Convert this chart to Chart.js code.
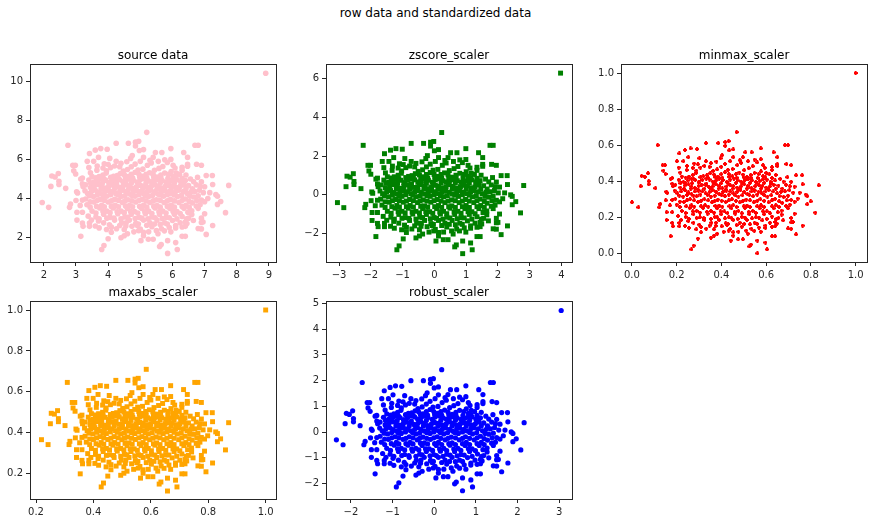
<!DOCTYPE html>
<html>
<head>
<meta charset="utf-8">
<title>row data and standardized data</title>
<script src="https://cdn.jsdelivr.net/npm/chart.js@4"></script>
<style>
    html, body { margin: 0; padding: 0; background: #fff; }
    body { position: relative; width: 874px; height: 523px; overflow: hidden; }
    #suptitle {
        position: absolute; left: 0; top: 5px; width: 871px; text-align: center;
        font: 12px "DejaVu Sans"; color: #000; line-height: 16px;
    }
    .panel { position: absolute; }
</style>
</head>
<body>
<div id="suptitle">row data and standardized data</div>
<script>
// Values, one pair of arrays per panel

const sourceX = [
    8.9,1.95,2.15,2.22,2.25,2.35,2.45,2.47,2.47,2.68,2.75,2.9,2.98,2.93,2.99,2.8,2.83,3.0,3.02,3.05,3.03,3.03,3.13,3.15,3.2,3.22,3.15,3.2,3.2,3.22,
    3.35,3.42,3.4,3.45,3.55,3.6,3.7,3.77,3.65,3.4,3.42,3.42,3.6,3.72,3.7,3.8,3.87,3.95,4.0,4.1,4.05,3.97,4.25,3.88,4.25,4.63,4.85,4.85,4.95,5.1,
    5.2,4.97,4.75,4.4,5.47,5.67,5.95,5.4,6.35,6.47,6.7,6.8,6.75,6.47,6.47,6.9,6.78,7.05,7.24,7.25,7.75,7.5,7.4,7.35,7.4,7.65,7.25,7.05,7.0,6.9,
    6.95,6.9,6.8,6.9,6.65,6.45,6.4,6.3,6.4,6.1,5.85,5.85,6.15,5.65,5.6,5.4,5.25,5.02,5.1,4.8,4.5,4.4,4.55,
    3.95,4.2,4.47,4.72,4.93,5.22,5.44,5.7,5.96,6.22,
    3.72,3.94,4.17,4.38,4.62,4.84,5.07,5.29,5.52,5.76,6.02,6.42,
    3.55,3.8,4.02,4.26,4.46,4.66,4.9,5.12,5.34,5.56,5.8,6.02,6.26,6.56,
    3.45,3.7,3.9,4.12,4.34,4.56,4.76,5.0,5.22,5.44,5.66,5.9,6.12,6.36,6.62,6.86,
    3.36,3.6,3.8,4.02,4.24,4.46,4.66,4.88,5.1,5.32,5.54,5.76,5.98,6.2,6.46,6.7,6.96,
    3.3,3.54,3.76,3.96,4.2,4.4,4.62,4.84,5.06,5.26,5.5,5.72,5.94,6.16,6.4,6.66,6.9,7.1,
    3.34,3.56,3.8,4.0,4.22,4.44,4.66,4.86,5.1,5.3,5.52,5.74,5.96,6.2,6.42,6.62,6.86,
    3.5,3.74,3.96,4.16,4.4,4.6,4.82,5.04,5.26,5.46,5.7,5.92,6.14,6.36,6.6,6.8,
    3.62,3.86,4.06,4.3,4.52,4.72,4.96,5.16,5.36,5.6,5.8,6.06,6.3,6.6,
    3.86,4.2,4.42,4.66,4.86,5.1,5.3,5.52,5.76,6.0,6.24,
    4.26,4.74,5.0,5.36,5.66,5.9,
    3.84,4.28,4.5,4.72,4.96,5.18,5.4,5.64,5.88,6.12,
    3.68,3.92,4.14,4.36,4.56,4.78,5.0,5.24,5.46,5.68,5.92,6.14,6.4,
    3.58,3.8,4.02,4.24,4.46,4.66,4.88,5.1,5.34,5.55,5.78,6.0,6.24,6.5,6.74,
    3.48,3.7,3.9,4.14,4.36,4.56,4.78,5.0,5.22,5.44,5.66,5.88,6.1,6.34,6.58,6.84,
    3.42,3.66,3.86,4.08,4.3,4.52,4.74,4.96,5.16,5.38,5.6,5.84,6.06,6.28,6.54,6.8,
    3.44,3.66,3.88,4.1,4.32,4.52,4.74,4.96,5.18,5.4,5.62,5.84,6.06,6.3,6.52,6.76,7.0,
    3.44,3.64,3.88,4.1,4.32,4.54,4.76,4.98,5.2,5.42,5.62,5.84,6.06,6.3,6.52,6.74,
    3.62,3.84,4.06,4.28,4.5,4.7,4.92,5.14,5.36,5.58,5.8,6.02,6.24,6.48,
    3.72,3.96,4.18,4.4,4.6,4.84,5.04,5.24,5.46,5.68,5.9,6.14,6.44,
    4.04,4.36,4.56,4.94,5.2,5.44,5.62,5.84,6.1,
    4.08,4.6,4.84,5.08,5.34,5.58,5.84,6.08,3.66,3.84,
    3.5,3.3,3.28,3.2,3.2,3.38,3.48,7.0,7.16,6.66,6.9,
    3.62,3.86,4.08,4.32,4.54,4.76,4.98,5.2,5.42,5.64,5.86,6.1,6.3,
    3.46,3.6,3.82,4.04,4.26,4.5,4.72,4.94,5.18,5.4,5.62,5.84,6.06,6.28,
    3.56,3.78,4.0,4.2,4.42,4.64,4.86,5.08,5.3,5.52,5.74,5.96,6.18,6.42,
    4.0,4.36,4.58,4.7,5.0,5.1,5.3,5.56,5.76,5.95,6.02,6.3,6.3,
    4.1,4.5,4.6,4.9,4.95,5.1,5.26,5.5,5.55,5.75,5.95,6.1,6.4,6.5,6.3
];
const sourceY = [
    10.4,3.8,3.55,4.62,5.15,5.1,5.28,4.88,4.72,4.52,6.72,5.7,5.7,5.42,5.25,3.55,3.72,3.9,4.35,4.28,3.3,2.9,3.65,2.07,2.75,2.58,5.0,5.05,4.75,4.62,
    5.9,6.3,5.58,5.32,5.9,6.47,6.1,6.55,5.45,4.95,2.75,2.58,2.6,2.5,2.85,1.4,1.6,2.42,1.95,2.28,6.05,6.52,6.82,5.78,5.9,6.82,6.88,6.68,6.92,6.5,
    7.38,6.45,6.2,5.8,6.35,6.35,6.55,6.1,6.35,6.1,6.72,6.72,5.75,5.75,5.65,5.7,5.08,5.18,5.18,4.72,4.67,3.85,3.7,4.2,4.12,3.28,2.62,2.17,3.22,3.0,
    2.8,2.45,2.47,2.78,2.88,2.72,2.58,2.07,2.07,1.75,1.85,1.2,1.4,1.65,1.55,1.92,1.92,1.85,2.1,2.3,2.1,2.0,2.6,
    5.42,5.66,5.4,5.62,5.46,5.7,5.44,5.64,5.38,5.24,
    5.12,5.3,5.14,5.28,5.12,5.34,5.14,5.32,5.1,5.3,5.14,5.2,
    4.84,5.0,4.82,5.02,4.86,5.0,4.84,5.02,4.86,4.98,4.84,4.98,4.86,5.0,
    4.56,4.72,4.54,4.7,4.58,4.72,4.52,4.68,4.56,4.72,4.54,4.68,4.56,4.7,4.5,4.62,
    4.26,4.42,4.24,4.4,4.26,4.42,4.24,4.4,4.26,4.42,4.24,4.4,4.26,4.42,4.26,4.36,4.3,
    3.98,4.1,3.96,4.12,3.96,4.1,3.94,4.12,3.96,4.1,3.94,4.12,3.96,4.1,3.98,4.08,3.92,4.0,
    3.68,3.82,3.66,3.82,3.66,3.8,3.64,3.82,3.66,3.8,3.64,3.8,3.66,3.8,3.66,3.78,3.68,
    3.36,3.52,3.36,3.52,3.36,3.5,3.34,3.5,3.36,3.52,3.36,3.5,3.34,3.5,3.38,3.5,
    3.06,3.2,3.04,3.22,3.06,3.2,3.04,3.22,3.06,3.2,3.04,3.2,3.08,3.18,
    2.76,2.9,2.76,2.9,2.74,2.9,2.76,2.9,2.76,2.88,2.76,
    2.46,2.58,2.44,2.56,2.46,2.52,
    5.2,5.18,5.22,5.24,5.24,5.24,5.22,5.2,5.24,5.3,
    4.92,4.94,4.94,4.96,4.92,4.94,4.96,4.92,4.94,4.92,4.9,4.96,4.92,
    4.66,4.62,4.64,4.68,4.62,4.64,4.6,4.64,4.62,4.64,4.62,4.64,4.62,4.66,4.7,
    4.36,4.32,4.36,4.36,4.34,4.34,4.34,4.36,4.34,4.34,4.36,4.34,4.36,4.36,4.34,4.42,
    4.14,4.18,4.14,4.2,4.18,4.14,4.16,4.2,4.16,4.16,4.18,4.2,4.18,4.16,4.12,4.14,
    3.84,3.9,3.9,3.88,3.9,3.88,3.88,3.9,3.88,3.88,3.9,3.88,3.88,3.9,3.86,3.9,3.84,
    3.56,3.6,3.58,3.6,3.58,3.62,3.58,3.6,3.56,3.6,3.56,3.6,3.56,3.6,3.56,3.62,
    3.26,3.34,3.28,3.32,3.28,3.34,3.26,3.32,3.24,3.32,3.26,3.34,3.24,3.3,
    2.96,3.0,3.0,2.96,3.04,2.98,3.0,2.96,3.02,2.98,3.02,2.96,2.96,
    2.66,2.62,2.76,2.7,2.64,2.7,2.68,2.7,2.62,
    5.58,5.48,5.76,5.5,5.82,5.54,5.84,5.56,5.66,5.56,
    5.12,4.7,4.4,3.92,3.3,3.1,2.9,4.6,4.3,4.86,4.85,
    5.06,5.02,5.08,5.04,5.08,5.06,5.1,5.06,5.08,5.06,5.04,5.08,5.04,
    4.78,4.8,4.78,4.82,4.76,4.8,4.78,4.76,4.8,4.78,4.8,4.76,4.8,4.78,
    4.48,4.5,4.46,4.5,4.48,4.5,4.46,4.5,4.48,4.5,4.46,4.5,4.48,4.5,
    5.74,5.62,5.88,6.05,5.9,6.1,5.95,5.9,5.98,6.0,5.7,5.6,5.45,
    2.54,2.42,2.2,2.64,2.36,2.28,2.3,2.36,2.2,2.35,2.3,2.5,2.8,3.0,2.55
];

const zscoreX = [
    3.97,-3.05,-2.85,-2.78,-2.75,-2.65,-2.55,-2.53,-2.53,-2.31,-2.24,-2.09,-2.01,-2.06,-2.0,-2.19,-2.16,-1.99,-1.97,-1.94,-1.96,-1.96,-1.86,-1.84,-1.79,-1.77,-1.84,-1.79,-1.79,-1.77,
    -1.64,-1.57,-1.59,-1.54,-1.43,-1.38,-1.28,-1.21,-1.33,-1.59,-1.57,-1.57,-1.38,-1.26,-1.28,-1.18,-1.11,-1.03,-0.98,-0.88,-0.93,-1.01,-0.73,-1.1,-0.73,-0.34,-0.12,-0.12,-0.02,0.13,
    0.23,0,-0.22,-0.58,0.51,0.71,0.99,0.43,1.39,1.52,1.75,1.85,1.8,1.52,1.52,1.95,1.83,2.1,2.29,2.3,2.81,2.56,2.45,2.4,2.45,2.71,2.3,2.1,2.05,1.95,
    2.0,1.95,1.85,1.95,1.7,1.49,1.44,1.34,1.44,1.14,0.89,0.89,1.19,0.69,0.64,0.43,0.28,0.05,0.13,-0.17,-0.47,-0.58,-0.42,
    -1.03,-0.78,-0.51,-0.25,-0.04,0.25,0.47,0.74,1.0,1.26,
    -1.26,-1.04,-0.81,-0.6,-0.35,-0.13,0.1,0.32,0.56,0.8,1.06,1.47,
    -1.44,-1.18,-0.96,-0.72,-0.52,-0.31,-0.07,0.15,0.37,0.6,0.84,1.06,1.3,1.61,
    -1.54,-1.28,-1.08,-0.86,-0.64,-0.41,-0.21,0.03,0.25,0.47,0.69,0.94,1.16,1.4,1.66,1.91,
    -1.63,-1.38,-1.18,-0.96,-0.74,-0.52,-0.31,-0.09,0.13,0.35,0.57,0.8,1.02,1.24,1.5,1.75,2.01,
    -1.69,-1.44,-1.22,-1.02,-0.78,-0.58,-0.35,-0.13,0.09,0.29,0.54,0.76,0.98,1.2,1.44,1.71,1.95,2.15,
    -1.65,-1.42,-1.18,-0.98,-0.76,-0.53,-0.31,-0.11,0.13,0.33,0.55,0.78,1.0,1.24,1.46,1.66,1.91,
    -1.48,-1.24,-1.02,-0.82,-0.58,-0.37,-0.15,0.07,0.29,0.49,0.74,0.96,1.18,1.4,1.65,1.85,
    -1.37,-1.12,-0.92,-0.68,-0.46,-0.25,-0.01,0.19,0.39,0.64,0.84,1.1,1.34,1.65,
    -1.12,-0.78,-0.56,-0.31,-0.11,0.13,0.33,0.56,0.8,1.04,1.28,
    -0.71,-0.23,0.03,0.39,0.7,0.94,
    -1.14,-0.7,-0.47,-0.25,-0.01,0.21,0.43,0.68,0.92,1.16,
    -1.3,-1.06,-0.84,-0.62,-0.41,-0.19,0.03,0.27,0.49,0.72,0.96,1.18,1.44,
    -1.4,-1.18,-0.96,-0.74,-0.52,-0.31,-0.09,0.13,0.37,0.59,0.82,1.04,1.28,1.55,1.79,
    -1.5,-1.28,-1.08,-0.84,-0.62,-0.41,-0.19,0.03,0.25,0.47,0.7,0.92,1.14,1.38,1.63,1.89,
    -1.57,-1.32,-1.12,-0.9,-0.68,-0.45,-0.23,-0.01,0.19,0.41,0.64,0.88,1.1,1.32,1.59,1.85,
    -1.55,-1.32,-1.1,-0.88,-0.66,-0.45,-0.23,-0.01,0.21,0.43,0.66,0.88,1.1,1.34,1.57,1.81,2.05,
    -1.55,-1.34,-1.1,-0.88,-0.66,-0.43,-0.21,0.01,0.23,0.45,0.66,0.88,1.1,1.34,1.57,1.79,
    -1.36,-1.14,-0.92,-0.7,-0.47,-0.27,-0.05,0.17,0.39,0.62,0.84,1.06,1.28,1.53,
    -1.26,-1.02,-0.8,-0.58,-0.37,-0.13,0.07,0.27,0.49,0.72,0.94,1.18,1.48,
    -0.94,-0.62,-0.41,-0.03,0.23,0.47,0.66,0.88,1.14,
    -0.9,-0.37,-0.13,0.11,0.37,0.62,0.88,1.12,-1.32,-1.14,
    -1.48,-1.69,-1.71,-1.79,-1.79,-1.61,-1.5,2.05,2.21,1.71,1.95,
    -1.36,-1.12,-0.9,-0.66,-0.43,-0.21,0.01,0.23,0.45,0.68,0.9,1.14,1.34,
    -1.53,-1.38,-1.16,-0.94,-0.72,-0.47,-0.25,-0.03,0.21,0.43,0.66,0.88,1.1,1.32,
    -1.42,-1.2,-0.98,-0.78,-0.56,-0.33,-0.11,0.11,0.33,0.56,0.78,1.0,1.22,1.46,
    -0.98,-0.62,-0.39,-0.27,0.03,0.13,0.33,0.6,0.8,0.99,1.06,1.34,1.34,
    -0.88,-0.47,-0.37,-0.07,-0.02,0.13,0.29,0.54,0.59,0.79,0.99,1.14,1.44,1.55,1.34
];
const zscoreY = [
    6.27,-0.4,-0.66,0.42,0.96,0.91,1.09,0.69,0.53,0.32,2.55,1.52,1.52,1.23,1.06,-0.66,-0.49,-0.3,0.15,0.08,-0.91,-1.32,-0.56,-2.15,-1.47,-1.64,0.81,0.86,0.56,0.42,
    1.72,2.12,1.4,1.13,1.72,2.3,1.92,2.38,1.26,0.76,-1.47,-1.64,-1.62,-1.72,-1.37,-2.83,-2.63,-1.8,-2.27,-1.94,1.87,2.35,2.65,1.6,1.72,2.65,2.71,2.51,2.75,2.33,
    3.21,2.27,2.02,1.62,2.17,2.17,2.38,1.92,2.17,1.92,2.55,2.55,1.57,1.57,1.47,1.52,0.89,0.99,0.99,0.53,0.48,-0.35,-0.51,0,-0.08,-0.93,-1.6,-2.05,-0.99,-1.21,
    -1.42,-1.77,-1.75,-1.44,-1.34,-1.5,-1.64,-2.15,-2.15,-2.48,-2.38,-3.03,-2.83,-2.58,-2.68,-2.31,-2.31,-2.38,-2.12,-1.92,-2.12,-2.22,-1.62,
    1.23,1.48,1.21,1.44,1.27,1.52,1.25,1.46,1.19,1.05,
    0.93,1.11,0.95,1.09,0.93,1.15,0.95,1.13,0.91,1.11,0.95,1.01,
    0.65,0.81,0.63,0.83,0.67,0.81,0.65,0.83,0.67,0.79,0.65,0.79,0.67,0.81,
    0.36,0.53,0.34,0.51,0.38,0.53,0.32,0.49,0.36,0.53,0.34,0.49,0.36,0.51,0.3,0.42,
    0.06,0.22,0.04,0.2,0.06,0.22,0.04,0.2,0.06,0.22,0.04,0.2,0.06,0.22,0.06,0.16,0.1,
    -0.22,-0.1,-0.24,-0.08,-0.24,-0.1,-0.26,-0.08,-0.24,-0.1,-0.26,-0.08,-0.24,-0.1,-0.22,-0.12,-0.28,-0.2,
    -0.53,-0.38,-0.55,-0.38,-0.55,-0.4,-0.57,-0.38,-0.55,-0.4,-0.57,-0.4,-0.55,-0.4,-0.55,-0.43,-0.53,
    -0.85,-0.69,-0.85,-0.69,-0.85,-0.71,-0.87,-0.71,-0.85,-0.69,-0.85,-0.71,-0.87,-0.71,-0.83,-0.71,
    -1.15,-1.01,-1.17,-0.99,-1.15,-1.01,-1.17,-0.99,-1.15,-1.01,-1.17,-1.01,-1.13,-1.03,
    -1.46,-1.32,-1.46,-1.32,-1.48,-1.32,-1.46,-1.32,-1.46,-1.34,-1.46,
    -1.76,-1.64,-1.78,-1.66,-1.76,-1.7,
    1.01,0.99,1.03,1.05,1.05,1.05,1.03,1.01,1.05,1.11,
    0.73,0.75,0.75,0.77,0.73,0.75,0.77,0.73,0.75,0.73,0.71,0.77,0.73,
    0.47,0.42,0.44,0.49,0.42,0.44,0.4,0.44,0.42,0.44,0.42,0.44,0.42,0.47,0.51,
    0.16,0.12,0.16,0.16,0.14,0.14,0.14,0.16,0.14,0.14,0.16,0.14,0.16,0.16,0.14,0.22,
    -0.06,-0.02,-0.06,0,-0.02,-0.06,-0.04,0,-0.04,-0.04,-0.02,0,-0.02,-0.04,-0.08,-0.06,
    -0.36,-0.3,-0.3,-0.32,-0.3,-0.32,-0.32,-0.3,-0.32,-0.32,-0.3,-0.32,-0.32,-0.3,-0.34,-0.3,-0.36,
    -0.65,-0.61,-0.63,-0.61,-0.63,-0.59,-0.63,-0.61,-0.65,-0.61,-0.65,-0.61,-0.65,-0.61,-0.65,-0.59,
    -0.95,-0.87,-0.93,-0.89,-0.93,-0.87,-0.95,-0.89,-0.97,-0.89,-0.95,-0.87,-0.97,-0.91,
    -1.25,-1.21,-1.21,-1.25,-1.17,-1.23,-1.21,-1.25,-1.19,-1.23,-1.19,-1.25,-1.25,
    -1.56,-1.6,-1.46,-1.52,-1.58,-1.52,-1.54,-1.52,-1.6,
    1.4,1.29,1.58,1.31,1.64,1.35,1.66,1.38,1.48,1.38,
    0.93,0.51,0.2,-0.28,-0.91,-1.11,-1.31,0.4,0.1,0.67,0.66,
    0.87,0.83,0.89,0.85,0.89,0.87,0.91,0.87,0.89,0.87,0.85,0.89,0.85,
    0.59,0.61,0.59,0.63,0.57,0.61,0.59,0.57,0.61,0.59,0.61,0.57,0.61,0.59,
    0.28,0.3,0.26,0.3,0.28,0.3,0.26,0.3,0.28,0.3,0.26,0.3,0.28,0.3,
    1.56,1.44,1.7,1.87,1.72,1.92,1.77,1.72,1.8,1.82,1.52,1.42,1.26,
    -1.68,-1.8,-2.02,-1.58,-1.86,-1.94,-1.92,-1.86,-2.02,-1.86,-1.92,-1.72,-1.42,-1.21,-1.67
];

const minmaxX = [
    1.0,0,0.029,0.039,0.043,0.058,0.072,0.075,0.075,0.105,0.115,0.137,0.148,0.141,0.15,0.122,0.127,0.151,0.154,0.158,0.155,0.155,0.17,0.173,0.18,0.183,0.173,0.18,0.18,0.183,
    0.201,0.212,0.209,0.216,0.23,0.237,0.252,0.262,0.245,0.209,0.212,0.212,0.237,0.255,0.252,0.266,0.276,0.288,0.295,0.309,0.302,0.291,0.331,0.278,0.331,0.386,0.417,0.417,0.432,0.453,
    0.468,0.435,0.403,0.353,0.507,0.535,0.576,0.496,0.633,0.65,0.684,0.698,0.691,0.65,0.65,0.712,0.695,0.734,0.761,0.763,0.835,0.799,0.784,0.777,0.784,0.82,0.763,0.734,0.727,0.712,
    0.72,0.712,0.698,0.712,0.676,0.648,0.64,0.626,0.64,0.597,0.561,0.561,0.604,0.532,0.525,0.496,0.475,0.442,0.453,0.41,0.367,0.353,0.374,
    0.288,0.324,0.363,0.399,0.429,0.471,0.502,0.54,0.577,0.614,
    0.255,0.287,0.319,0.35,0.384,0.416,0.449,0.48,0.514,0.548,0.586,0.643,
    0.23,0.266,0.298,0.332,0.361,0.39,0.424,0.456,0.488,0.519,0.554,0.586,0.62,0.663,
    0.216,0.252,0.281,0.312,0.344,0.375,0.404,0.439,0.47,0.502,0.534,0.568,0.6,0.634,0.672,0.706,
    0.203,0.237,0.266,0.298,0.329,0.361,0.39,0.422,0.453,0.485,0.516,0.548,0.58,0.611,0.649,0.684,0.721,
    0.194,0.229,0.26,0.289,0.324,0.353,0.384,0.416,0.447,0.476,0.511,0.542,0.574,0.606,0.64,0.678,0.712,0.741,
    0.2,0.232,0.266,0.295,0.327,0.358,0.39,0.419,0.453,0.482,0.514,0.545,0.577,0.611,0.643,0.672,0.706,
    0.223,0.258,0.289,0.318,0.353,0.381,0.413,0.445,0.476,0.505,0.54,0.571,0.603,0.634,0.669,0.698,
    0.24,0.275,0.304,0.338,0.37,0.399,0.433,0.462,0.491,0.525,0.554,0.591,0.626,0.669,
    0.275,0.324,0.355,0.39,0.419,0.453,0.482,0.514,0.548,0.583,0.617,
    0.332,0.401,0.439,0.491,0.534,0.568,
    0.272,0.335,0.367,0.399,0.433,0.465,0.496,0.531,0.566,0.6,
    0.249,0.283,0.315,0.347,0.376,0.407,0.439,0.473,0.505,0.537,0.571,0.603,0.64,
    0.235,0.266,0.298,0.33,0.361,0.39,0.422,0.453,0.488,0.518,0.551,0.583,0.617,0.655,0.689,
    0.22,0.252,0.281,0.315,0.347,0.376,0.407,0.439,0.47,0.502,0.534,0.566,0.597,0.632,0.666,0.704,
    0.212,0.246,0.275,0.306,0.338,0.37,0.401,0.433,0.462,0.494,0.525,0.56,0.591,0.623,0.66,0.698,
    0.214,0.246,0.278,0.309,0.341,0.37,0.401,0.433,0.465,0.496,0.528,0.56,0.591,0.626,0.658,0.692,0.727,
    0.214,0.243,0.278,0.309,0.341,0.373,0.404,0.436,0.468,0.5,0.528,0.56,0.591,0.626,0.658,0.689,
    0.24,0.272,0.304,0.335,0.367,0.396,0.427,0.459,0.491,0.522,0.554,0.586,0.617,0.652,
    0.255,0.289,0.321,0.353,0.381,0.416,0.445,0.473,0.505,0.537,0.568,0.603,0.646,
    0.301,0.347,0.376,0.43,0.468,0.502,0.528,0.56,0.597,
    0.306,0.381,0.416,0.45,0.488,0.522,0.56,0.594,0.246,0.272,
    0.223,0.194,0.191,0.18,0.18,0.206,0.22,0.727,0.75,0.678,0.712,
    0.24,0.275,0.306,0.341,0.373,0.404,0.436,0.468,0.499,0.531,0.562,0.597,0.626,
    0.217,0.237,0.269,0.301,0.333,0.367,0.399,0.43,0.465,0.496,0.528,0.56,0.591,0.623,
    0.232,0.263,0.295,0.324,0.355,0.387,0.419,0.45,0.482,0.514,0.545,0.577,0.609,0.643,
    0.295,0.347,0.378,0.396,0.439,0.453,0.482,0.519,0.548,0.576,0.586,0.626,0.626,
    0.309,0.367,0.381,0.425,0.432,0.453,0.476,0.511,0.518,0.547,0.576,0.597,0.64,0.655,0.626
];
const minmaxY = [
    1.0,0.283,0.255,0.372,0.429,0.424,0.444,0.4,0.383,0.361,0.6,0.489,0.489,0.459,0.44,0.255,0.274,0.294,0.342,0.335,0.228,0.185,0.266,0.095,0.169,0.15,0.413,0.418,0.386,0.372,
    0.511,0.554,0.476,0.448,0.511,0.573,0.533,0.582,0.462,0.408,0.169,0.15,0.152,0.141,0.179,0.022,0.043,0.133,0.082,0.117,0.527,0.578,0.611,0.498,0.511,0.611,0.617,0.596,0.622,0.576,
    0.672,0.571,0.544,0.5,0.56,0.56,0.582,0.533,0.56,0.533,0.6,0.6,0.495,0.495,0.484,0.489,0.422,0.433,0.433,0.383,0.377,0.288,0.272,0.326,0.317,0.226,0.154,0.105,0.22,0.196,
    0.174,0.136,0.138,0.172,0.183,0.165,0.15,0.095,0.095,0.06,0.071,0,0.022,0.049,0.038,0.078,0.078,0.071,0.098,0.12,0.098,0.087,0.152,
    0.459,0.485,0.457,0.48,0.463,0.489,0.461,0.483,0.454,0.439,
    0.426,0.446,0.428,0.444,0.426,0.45,0.428,0.448,0.424,0.446,0.428,0.435,
    0.396,0.413,0.393,0.415,0.398,0.413,0.396,0.415,0.398,0.411,0.396,0.411,0.398,0.413,
    0.365,0.383,0.363,0.38,0.368,0.383,0.361,0.378,0.365,0.383,0.363,0.378,0.365,0.38,0.359,0.372,
    0.333,0.35,0.33,0.348,0.333,0.35,0.33,0.348,0.333,0.35,0.33,0.348,0.333,0.35,0.333,0.344,0.337,
    0.302,0.315,0.3,0.317,0.3,0.315,0.298,0.317,0.3,0.315,0.298,0.317,0.3,0.315,0.302,0.313,0.296,0.304,
    0.27,0.285,0.267,0.285,0.267,0.283,0.265,0.285,0.267,0.283,0.265,0.283,0.267,0.283,0.267,0.28,0.27,
    0.235,0.252,0.235,0.252,0.235,0.25,0.233,0.25,0.235,0.252,0.235,0.25,0.233,0.25,0.237,0.25,
    0.202,0.217,0.2,0.22,0.202,0.217,0.2,0.22,0.202,0.217,0.2,0.217,0.204,0.215,
    0.17,0.185,0.17,0.185,0.167,0.185,0.17,0.185,0.17,0.183,0.17,
    0.137,0.15,0.135,0.148,0.137,0.143,
    0.435,0.433,0.437,0.439,0.439,0.439,0.437,0.435,0.439,0.446,
    0.404,0.407,0.407,0.409,0.404,0.407,0.409,0.404,0.407,0.404,0.402,0.409,0.404,
    0.376,0.372,0.374,0.378,0.372,0.374,0.37,0.374,0.372,0.374,0.372,0.374,0.372,0.376,0.38,
    0.343,0.339,0.343,0.343,0.341,0.341,0.341,0.343,0.341,0.341,0.343,0.341,0.343,0.343,0.341,0.35,
    0.32,0.324,0.32,0.326,0.324,0.32,0.322,0.326,0.322,0.322,0.324,0.326,0.324,0.322,0.317,0.32,
    0.287,0.294,0.294,0.291,0.294,0.291,0.291,0.294,0.291,0.291,0.294,0.291,0.291,0.294,0.289,0.294,0.287,
    0.257,0.261,0.259,0.261,0.259,0.263,0.259,0.261,0.257,0.261,0.257,0.261,0.257,0.261,0.257,0.263,
    0.224,0.233,0.226,0.23,0.226,0.233,0.224,0.23,0.222,0.23,0.224,0.233,0.222,0.228,
    0.191,0.196,0.196,0.191,0.2,0.194,0.196,0.191,0.198,0.194,0.198,0.191,0.191,
    0.159,0.154,0.17,0.163,0.157,0.163,0.161,0.163,0.154,
    0.476,0.465,0.496,0.468,0.502,0.472,0.504,0.474,0.485,0.474,
    0.426,0.38,0.348,0.296,0.228,0.207,0.185,0.37,0.337,0.398,0.397,
    0.42,0.415,0.422,0.418,0.422,0.42,0.424,0.42,0.422,0.42,0.418,0.422,0.418,
    0.389,0.391,0.389,0.394,0.387,0.391,0.389,0.387,0.391,0.389,0.391,0.387,0.391,0.389,
    0.357,0.359,0.354,0.359,0.357,0.359,0.354,0.359,0.357,0.359,0.354,0.359,0.357,0.359,
    0.494,0.48,0.509,0.527,0.511,0.533,0.516,0.511,0.52,0.522,0.489,0.478,0.462,
    0.146,0.133,0.109,0.157,0.126,0.117,0.12,0.126,0.109,0.125,0.12,0.141,0.174,0.196,0.147
];

const maxabsX = [
    1.0,0.219,0.242,0.25,0.253,0.264,0.275,0.278,0.278,0.301,0.309,0.326,0.335,0.329,0.336,0.315,0.318,0.337,0.339,0.343,0.341,0.341,0.352,0.354,0.36,0.362,0.354,0.36,0.36,0.362,
    0.377,0.384,0.382,0.388,0.399,0.405,0.416,0.424,0.41,0.382,0.384,0.384,0.405,0.418,0.416,0.427,0.435,0.444,0.45,0.461,0.455,0.446,0.478,0.436,0.478,0.52,0.545,0.545,0.556,0.573,
    0.584,0.558,0.534,0.495,0.615,0.637,0.669,0.607,0.714,0.727,0.753,0.764,0.758,0.727,0.727,0.776,0.762,0.792,0.814,0.815,0.871,0.843,0.832,0.826,0.832,0.86,0.815,0.792,0.787,0.776,
    0.781,0.776,0.764,0.776,0.747,0.725,0.719,0.708,0.719,0.686,0.658,0.658,0.691,0.635,0.629,0.607,0.59,0.564,0.573,0.54,0.506,0.495,0.511,
    0.444,0.472,0.502,0.531,0.554,0.587,0.611,0.641,0.67,0.699,
    0.418,0.443,0.469,0.492,0.519,0.544,0.57,0.595,0.62,0.647,0.677,0.722,
    0.399,0.427,0.452,0.479,0.501,0.524,0.551,0.575,0.6,0.625,0.652,0.677,0.704,0.737,
    0.388,0.416,0.438,0.463,0.488,0.513,0.535,0.562,0.587,0.611,0.636,0.663,0.688,0.715,0.744,0.771,
    0.378,0.405,0.427,0.452,0.477,0.501,0.524,0.549,0.573,0.598,0.623,0.647,0.672,0.697,0.726,0.753,0.782,
    0.371,0.398,0.423,0.445,0.472,0.495,0.519,0.544,0.569,0.591,0.618,0.643,0.668,0.692,0.719,0.749,0.776,0.798,
    0.375,0.4,0.427,0.45,0.474,0.499,0.524,0.546,0.573,0.596,0.62,0.645,0.67,0.697,0.722,0.744,0.771,
    0.393,0.42,0.445,0.468,0.495,0.517,0.542,0.566,0.591,0.614,0.641,0.665,0.69,0.715,0.742,0.764,
    0.407,0.434,0.456,0.483,0.508,0.531,0.557,0.58,0.602,0.629,0.652,0.681,0.708,0.742,
    0.434,0.472,0.497,0.524,0.546,0.573,0.596,0.62,0.647,0.674,0.701,
    0.479,0.533,0.562,0.602,0.636,0.663,
    0.432,0.481,0.506,0.531,0.558,0.582,0.607,0.634,0.661,0.688,
    0.414,0.441,0.465,0.49,0.513,0.537,0.562,0.589,0.614,0.638,0.665,0.69,0.719,
    0.402,0.427,0.452,0.477,0.501,0.524,0.549,0.573,0.6,0.624,0.65,0.674,0.701,0.731,0.758,
    0.391,0.416,0.438,0.465,0.49,0.513,0.537,0.562,0.587,0.611,0.636,0.661,0.686,0.713,0.74,0.769,
    0.384,0.411,0.434,0.459,0.483,0.508,0.533,0.558,0.58,0.605,0.629,0.656,0.681,0.706,0.735,0.764,
    0.387,0.411,0.436,0.461,0.486,0.508,0.533,0.558,0.582,0.607,0.632,0.656,0.681,0.708,0.733,0.76,0.787,
    0.387,0.409,0.436,0.461,0.486,0.51,0.535,0.56,0.584,0.609,0.632,0.656,0.681,0.708,0.733,0.758,
    0.407,0.432,0.456,0.481,0.506,0.528,0.553,0.578,0.602,0.627,0.652,0.677,0.701,0.728,
    0.418,0.445,0.47,0.495,0.517,0.544,0.566,0.589,0.614,0.638,0.663,0.69,0.724,
    0.454,0.49,0.513,0.555,0.584,0.611,0.632,0.656,0.686,
    0.459,0.517,0.544,0.571,0.6,0.627,0.656,0.683,0.411,0.432,
    0.393,0.371,0.369,0.36,0.36,0.38,0.391,0.787,0.805,0.749,0.776,
    0.407,0.434,0.459,0.486,0.51,0.535,0.56,0.584,0.609,0.634,0.659,0.686,0.708,
    0.389,0.405,0.429,0.454,0.479,0.506,0.531,0.555,0.582,0.607,0.632,0.656,0.681,0.706,
    0.4,0.425,0.45,0.472,0.497,0.522,0.546,0.571,0.596,0.62,0.645,0.67,0.695,0.722,
    0.45,0.49,0.515,0.528,0.562,0.573,0.596,0.625,0.647,0.669,0.677,0.708,0.708,
    0.461,0.506,0.517,0.551,0.556,0.573,0.591,0.618,0.624,0.646,0.669,0.686,0.719,0.731,0.708
];
const maxabsY = [
    1.0,0.366,0.342,0.444,0.495,0.491,0.508,0.469,0.454,0.435,0.646,0.548,0.548,0.521,0.505,0.342,0.358,0.375,0.418,0.412,0.317,0.279,0.351,0.199,0.265,0.248,0.481,0.486,0.457,0.444,
    0.568,0.606,0.537,0.512,0.568,0.622,0.587,0.63,0.524,0.476,0.265,0.248,0.25,0.241,0.274,0.135,0.154,0.233,0.188,0.219,0.582,0.627,0.656,0.556,0.568,0.656,0.662,0.643,0.666,0.625,
    0.71,0.62,0.596,0.558,0.611,0.611,0.63,0.587,0.611,0.587,0.646,0.646,0.553,0.553,0.544,0.548,0.489,0.498,0.498,0.454,0.449,0.37,0.356,0.404,0.396,0.316,0.252,0.209,0.31,0.289,
    0.269,0.236,0.238,0.267,0.277,0.262,0.248,0.199,0.199,0.168,0.178,0.115,0.135,0.159,0.149,0.185,0.185,0.178,0.202,0.221,0.202,0.192,0.25,
    0.521,0.544,0.519,0.541,0.525,0.548,0.523,0.543,0.518,0.504,
    0.493,0.51,0.494,0.508,0.493,0.514,0.494,0.512,0.491,0.51,0.494,0.5,
    0.466,0.481,0.464,0.483,0.468,0.481,0.466,0.483,0.468,0.479,0.466,0.479,0.468,0.481,
    0.439,0.454,0.437,0.452,0.441,0.454,0.435,0.45,0.439,0.454,0.437,0.45,0.439,0.452,0.433,0.444,
    0.41,0.425,0.408,0.423,0.41,0.425,0.408,0.423,0.41,0.425,0.408,0.423,0.41,0.425,0.41,0.419,0.414,
    0.383,0.394,0.381,0.396,0.381,0.394,0.379,0.396,0.381,0.394,0.379,0.396,0.381,0.394,0.383,0.392,0.377,0.385,
    0.354,0.367,0.352,0.367,0.352,0.366,0.35,0.367,0.352,0.366,0.35,0.366,0.352,0.366,0.352,0.364,0.354,
    0.323,0.339,0.323,0.339,0.323,0.337,0.321,0.337,0.323,0.339,0.323,0.337,0.321,0.337,0.325,0.337,
    0.294,0.308,0.292,0.31,0.294,0.308,0.292,0.31,0.294,0.308,0.292,0.308,0.296,0.306,
    0.266,0.279,0.266,0.279,0.264,0.279,0.266,0.279,0.266,0.277,0.266,
    0.237,0.248,0.235,0.246,0.237,0.242,
    0.5,0.498,0.502,0.504,0.504,0.504,0.502,0.5,0.504,0.51,
    0.473,0.475,0.475,0.477,0.473,0.475,0.477,0.473,0.475,0.473,0.471,0.477,0.473,
    0.448,0.444,0.446,0.45,0.444,0.446,0.443,0.446,0.444,0.446,0.444,0.446,0.444,0.448,0.452,
    0.419,0.416,0.419,0.419,0.418,0.418,0.418,0.419,0.418,0.418,0.419,0.418,0.419,0.419,0.418,0.425,
    0.398,0.402,0.398,0.404,0.402,0.398,0.4,0.404,0.4,0.4,0.402,0.404,0.402,0.4,0.396,0.398,
    0.369,0.375,0.375,0.373,0.375,0.373,0.373,0.375,0.373,0.373,0.375,0.373,0.373,0.375,0.371,0.375,0.369,
    0.342,0.346,0.344,0.346,0.344,0.348,0.344,0.346,0.342,0.346,0.342,0.346,0.342,0.346,0.342,0.348,
    0.314,0.321,0.316,0.319,0.316,0.321,0.314,0.319,0.312,0.319,0.314,0.321,0.312,0.317,
    0.285,0.289,0.289,0.285,0.292,0.287,0.289,0.285,0.291,0.287,0.291,0.285,0.285,
    0.256,0.252,0.266,0.26,0.254,0.26,0.258,0.26,0.252,
    0.537,0.527,0.554,0.529,0.56,0.533,0.562,0.535,0.544,0.535,
    0.493,0.452,0.423,0.377,0.317,0.298,0.279,0.443,0.414,0.468,0.467,
    0.487,0.483,0.489,0.485,0.489,0.487,0.491,0.487,0.489,0.487,0.485,0.489,0.485,
    0.46,0.462,0.46,0.464,0.458,0.462,0.46,0.458,0.462,0.46,0.462,0.458,0.462,0.46,
    0.431,0.433,0.429,0.433,0.431,0.433,0.429,0.433,0.431,0.433,0.429,0.433,0.431,0.433,
    0.552,0.541,0.566,0.582,0.568,0.587,0.572,0.568,0.575,0.577,0.548,0.539,0.524,
    0.244,0.233,0.212,0.254,0.227,0.219,0.221,0.227,0.212,0.226,0.221,0.241,0.269,0.289,0.245
];

const robustX = [
    3.05,-2.35,-2.19,-2.14,-2.11,-2.04,-1.96,-1.94,-1.94,-1.78,-1.73,-1.61,-1.55,-1.59,-1.54,-1.69,-1.66,-1.53,-1.51,-1.49,-1.51,-1.51,-1.43,-1.42,-1.38,-1.36,-1.42,-1.38,-1.38,-1.36,
    -1.26,-1.2,-1.22,-1.18,-1.1,-1.06,-0.99,-0.93,-1.03,-1.22,-1.2,-1.2,-1.06,-0.97,-0.99,-0.91,-0.85,-0.79,-0.75,-0.68,-0.71,-0.78,-0.56,-0.85,-0.56,-0.26,-0.09,-0.09,-0.02,0.1,
    0.18,0,-0.17,-0.44,0.39,0.54,0.76,0.33,1.07,1.17,1.35,1.42,1.39,1.17,1.17,1.5,1.41,1.62,1.76,1.77,2.16,1.97,1.89,1.85,1.89,2.08,1.77,1.62,1.58,1.5,
    1.54,1.5,1.42,1.5,1.31,1.15,1.11,1.03,1.11,0.88,0.68,0.68,0.92,0.53,0.49,0.33,0.22,0.04,0.1,-0.13,-0.37,-0.44,-0.33,
    -0.79,-0.6,-0.39,-0.19,-0.03,0.19,0.37,0.57,0.77,0.97,
    -0.97,-0.8,-0.62,-0.46,-0.27,-0.1,0.08,0.25,0.43,0.61,0.82,1.13,
    -1.1,-0.91,-0.74,-0.55,-0.4,-0.24,-0.05,0.12,0.29,0.46,0.64,0.82,1.0,1.24,
    -1.18,-0.99,-0.83,-0.66,-0.49,-0.32,-0.16,0.02,0.19,0.37,0.54,0.72,0.89,1.08,1.28,1.47,
    -1.25,-1.06,-0.91,-0.74,-0.57,-0.4,-0.24,-0.07,0.1,0.27,0.44,0.61,0.78,0.96,1.16,1.35,1.55,
    -1.3,-1.12,-0.94,-0.79,-0.6,-0.44,-0.27,-0.1,0.07,0.23,0.41,0.58,0.75,0.92,1.11,1.31,1.5,1.66,
    -1.27,-1.1,-0.91,-0.75,-0.58,-0.41,-0.24,-0.09,0.1,0.26,0.43,0.6,0.77,0.96,1.13,1.28,1.47,
    -1.14,-0.96,-0.79,-0.63,-0.44,-0.29,-0.12,0.05,0.23,0.38,0.57,0.74,0.91,1.08,1.27,1.42,
    -1.06,-0.86,-0.71,-0.52,-0.35,-0.19,-0.01,0.15,0.3,0.49,0.64,0.85,1.04,1.27,
    -0.86,-0.6,-0.43,-0.24,-0.09,0.1,0.26,0.43,0.61,0.8,0.98,
    -0.55,-0.18,0.02,0.3,0.54,0.72,
    -0.88,-0.54,-0.37,-0.19,-0.01,0.16,0.33,0.52,0.71,0.89,
    -1.0,-0.82,-0.64,-0.47,-0.32,-0.15,0.02,0.21,0.38,0.55,0.74,0.91,1.11,
    -1.08,-0.91,-0.74,-0.57,-0.4,-0.24,-0.07,0.1,0.29,0.45,0.63,0.8,0.99,1.19,1.38,
    -1.16,-0.99,-0.83,-0.64,-0.47,-0.32,-0.15,0.02,0.19,0.37,0.54,0.71,0.88,1.06,1.25,1.45,
    -1.2,-1.02,-0.86,-0.69,-0.52,-0.35,-0.18,-0.01,0.15,0.32,0.49,0.68,0.85,1.02,1.22,1.42,
    -1.19,-1.02,-0.85,-0.68,-0.51,-0.35,-0.18,-0.01,0.16,0.33,0.51,0.68,0.85,1.03,1.2,1.39,1.58,
    -1.19,-1.03,-0.85,-0.68,-0.51,-0.33,-0.16,0.01,0.18,0.35,0.51,0.68,0.85,1.03,1.2,1.38,
    -1.05,-0.88,-0.71,-0.54,-0.37,-0.21,-0.04,0.13,0.3,0.47,0.64,0.82,0.99,1.17,
    -0.97,-0.78,-0.61,-0.44,-0.29,-0.1,0.05,0.21,0.38,0.55,0.72,0.91,1.14,
    -0.72,-0.47,-0.32,-0.02,0.18,0.37,0.51,0.68,0.88,
    -0.69,-0.29,-0.1,0.09,0.29,0.47,0.68,0.86,-1.02,-0.88,
    -1.14,-1.3,-1.31,-1.38,-1.38,-1.24,-1.16,1.58,1.7,1.31,1.5,
    -1.05,-0.86,-0.69,-0.51,-0.33,-0.16,0.01,0.18,0.35,0.52,0.69,0.88,1.03,
    -1.17,-1.06,-0.89,-0.72,-0.55,-0.37,-0.19,-0.02,0.16,0.33,0.51,0.68,0.85,1.02,
    -1.1,-0.92,-0.75,-0.6,-0.43,-0.26,-0.09,0.09,0.26,0.43,0.6,0.77,0.94,1.13,
    -0.75,-0.47,-0.3,-0.21,0.02,0.1,0.26,0.46,0.61,0.76,0.82,1.03,1.03,
    -0.68,-0.37,-0.29,-0.05,-0.02,0.1,0.23,0.41,0.45,0.61,0.76,0.88,1.11,1.19,1.03
];
const robustY = [
    4.73,-0.3,-0.49,0.33,0.73,0.69,0.83,0.53,0.4,0.25,1.93,1.15,1.15,0.94,0.81,-0.49,-0.36,-0.22,0.12,0.07,-0.68,-0.98,-0.41,-1.62,-1.1,-1.23,0.62,0.65,0.43,0.33,
    1.3,1.61,1.06,0.86,1.3,1.74,1.45,1.8,0.96,0.58,-1.1,-1.23,-1.21,-1.29,-1.02,-2.13,-1.97,-1.35,-1.71,-1.46,1.42,1.78,2.0,1.21,1.3,2.0,2.05,1.9,2.08,1.76,
    2.43,1.72,1.53,1.23,1.65,1.65,1.8,1.46,1.65,1.46,1.93,1.93,1.19,1.19,1.11,1.15,0.68,0.76,0.76,0.4,0.37,-0.26,-0.37,0.01,-0.05,-0.69,-1.2,-1.54,-0.74,-0.91,
    -1.06,-1.32,-1.31,-1.07,-1.0,-1.12,-1.23,-1.62,-1.62,-1.86,-1.78,-2.28,-2.13,-1.94,-2.01,-1.73,-1.73,-1.78,-1.59,-1.44,-1.59,-1.67,-1.21,
    0.94,1.12,0.92,1.09,0.97,1.15,0.95,1.11,0.91,0.8,
    0.71,0.85,0.73,0.83,0.71,0.88,0.73,0.86,0.69,0.85,0.73,0.77,
    0.5,0.62,0.48,0.63,0.51,0.62,0.5,0.63,0.51,0.6,0.5,0.6,0.51,0.62,
    0.28,0.4,0.27,0.39,0.3,0.4,0.25,0.37,0.28,0.4,0.27,0.37,0.28,0.39,0.24,0.33,
    0.05,0.17,0.04,0.16,0.05,0.17,0.04,0.16,0.05,0.17,0.04,0.16,0.05,0.17,0.05,0.13,0.08,
    -0.16,-0.07,-0.18,-0.05,-0.18,-0.07,-0.19,-0.05,-0.18,-0.07,-0.19,-0.05,-0.18,-0.07,-0.16,-0.08,-0.21,-0.14,
    -0.39,-0.28,-0.4,-0.28,-0.4,-0.3,-0.42,-0.28,-0.4,-0.3,-0.42,-0.3,-0.4,-0.3,-0.4,-0.31,-0.39,
    -0.63,-0.51,-0.63,-0.51,-0.63,-0.52,-0.65,-0.52,-0.63,-0.51,-0.63,-0.52,-0.65,-0.52,-0.62,-0.52,
    -0.86,-0.75,-0.87,-0.74,-0.86,-0.75,-0.87,-0.74,-0.86,-0.75,-0.87,-0.75,-0.85,-0.77,
    -1.09,-0.98,-1.09,-0.98,-1.1,-0.98,-1.09,-0.98,-1.09,-0.99,-1.09,
    -1.32,-1.23,-1.33,-1.24,-1.32,-1.27,
    0.77,0.75,0.78,0.8,0.8,0.8,0.78,0.77,0.8,0.85,
    0.56,0.57,0.57,0.59,0.56,0.57,0.59,0.56,0.57,0.56,0.54,0.59,0.56,
    0.36,0.33,0.34,0.37,0.33,0.34,0.31,0.34,0.33,0.34,0.33,0.34,0.33,0.36,0.39,
    0.13,0.1,0.13,0.13,0.11,0.11,0.11,0.13,0.11,0.11,0.13,0.11,0.13,0.13,0.11,0.18,
    -0.04,-0.01,-0.04,0.01,-0.01,-0.04,-0.02,0.01,-0.02,-0.02,-0.01,0.01,-0.01,-0.02,-0.05,-0.04,
    -0.27,-0.22,-0.22,-0.24,-0.22,-0.24,-0.24,-0.22,-0.24,-0.24,-0.22,-0.24,-0.24,-0.22,-0.25,-0.22,-0.27,
    -0.48,-0.45,-0.46,-0.45,-0.46,-0.43,-0.46,-0.45,-0.48,-0.45,-0.48,-0.45,-0.48,-0.45,-0.48,-0.43,
    -0.71,-0.65,-0.69,-0.66,-0.69,-0.65,-0.71,-0.66,-0.72,-0.66,-0.71,-0.65,-0.72,-0.68,
    -0.94,-0.91,-0.91,-0.94,-0.88,-0.92,-0.91,-0.94,-0.89,-0.92,-0.89,-0.94,-0.94,
    -1.17,-1.2,-1.09,-1.14,-1.18,-1.14,-1.15,-1.14,-1.2,
    1.06,0.98,1.2,1.0,1.24,1.03,1.26,1.04,1.12,1.04,
    0.71,0.39,0.16,-0.21,-0.68,-0.83,-0.98,0.31,0.08,0.51,0.5,
    0.66,0.63,0.68,0.65,0.68,0.66,0.69,0.66,0.68,0.66,0.65,0.68,0.65,
    0.45,0.46,0.45,0.48,0.43,0.46,0.45,0.43,0.46,0.45,0.46,0.43,0.46,0.45,
    0.22,0.24,0.21,0.24,0.22,0.24,0.21,0.24,0.22,0.24,0.21,0.24,0.22,0.24,
    1.18,1.09,1.29,1.42,1.3,1.45,1.34,1.3,1.36,1.38,1.15,1.07,0.96,
    -1.26,-1.35,-1.52,-1.18,-1.39,-1.45,-1.44,-1.39,-1.52,-1.4,-1.44,-1.28,-1.06,-0.91,-1.25
];

// Tick values per axis
const sourceXTicks = [2, 3, 4, 5, 6, 7, 8, 9];
const sourceYTicks = [2, 4, 6, 8, 10];
const zscoreXTicks = [-3, -2, -1, 0, 1, 2, 3, 4];
const zscoreYTicks = [-2, 0, 2, 4, 6];
const minmaxXTicks = [0, 0.2, 0.4, 0.6, 0.8, 1];
const minmaxYTicks = [0, 0.2, 0.4, 0.6, 0.8, 1];
const maxabsXTicks = [0.2, 0.4, 0.6, 0.8, 1];
const maxabsYTicks = [0.2, 0.4, 0.6, 0.8, 1];
const robustXTicks = [-2, -1, 0, 1, 2, 3];
const robustYTicks = [-2, -1, 0, 1, 2, 3, 4, 5];

const LEFT_GUTTER = 30;
const TITLE_HEIGHT = 15;
const BOTTOM_GUTTER = 22;
const RIGHT_GUTTER = 6;
const INK = '#262626';

// Small filled plus, same as the marker in the minmax panel
function plusMarker(color) {
    const c = document.createElement('canvas');
    c.width = 4;
    c.height = 4;
    const g = c.getContext('2d');
    g.fillStyle = color;
    g.fillRect(1, 0, 2, 4);
    g.fillRect(0, 1, 4, 2);
    return c;
}

const panels = [
    { title: 'source data', xs: sourceX, ys: sourceY, xTicks: sourceXTicks, yTicks: sourceYTicks, digits: 0,
      xRange: [1.57, 9.22], yRange: [0.76, 10.87], color: 'pink', marker: 'circle', radius: 2.8,
      left: 30, top: 64, width: 246, height: 198 },
    { title: 'zscore_scaler', xs: zscoreX, ys: zscoreY, xTicks: zscoreXTicks, yTicks: zscoreYTicks, digits: 0,
      xRange: [-3.41, 4.33], yRange: [-3.46, 6.74], color: 'green', marker: 'rect', radius: 3.5,
      left: 326, top: 64, width: 246, height: 198 },
    { title: 'minmax_scaler', xs: minmaxX, ys: minmaxY, xTicks: minmaxXTicks, yTicks: minmaxYTicks, digits: 1,
      xRange: [-0.049, 1.051], yRange: [-0.048, 1.05], color: 'red', marker: plusMarker('red'), radius: 2,
      left: 621, top: 64, width: 246, height: 198 },
    { title: 'maxabs_scaler', xs: maxabsX, ys: maxabsY, xTicks: maxabsXTicks, yTicks: maxabsYTicks, digits: 1,
      xRange: [0.179, 1.036], yRange: [0.076, 1.044], color: 'orange', marker: 'rect', radius: 3.5,
      left: 30, top: 301, width: 246, height: 198 },
    { title: 'robust_scaler', xs: robustX, ys: robustY, xTicks: robustXTicks, yTicks: robustYTicks, digits: 0,
      xRange: [-2.6, 3.31], yRange: [-2.6, 5.1], color: 'blue', marker: 'circle', radius: 2.6,
      left: 326, top: 301, width: 246, height: 198 }
];

// Closed box round the plot area, the way matplotlib draws its spines
const framePlugin = {
    id: 'frame',
    afterDatasetsDraw(chart) {
        const { ctx, chartArea: a } = chart;
        ctx.save();
        ctx.strokeStyle = INK;
        ctx.lineWidth = 1;
        ctx.strokeRect(a.left + 0.5, a.top + 0.5, a.right - a.left, a.bottom - a.top);
        ctx.restore();
    }
};

function tickLabel(value, digits) {
    return value.toFixed(digits).replace('-', '\u2212');
}

function axisOptions(range, ticks, digits, fixSize) {
    return {
        type: 'linear',
        min: range[0],
        max: range[1],
        afterBuildTicks: scale => { scale.ticks = ticks.map(v => ({ value: v })); },
        afterFit: fixSize,
        grid: { drawOnChartArea: false, drawTicks: true, tickLength: 4, color: INK },
        border: { display: false },
        ticks: {
            color: INK,
            font: { family: 'DejaVu Sans', size: 10 },
            padding: 3,
            maxRotation: 0,
            autoSkip: false,
            callback: v => tickLabel(v, digits)
        }
    };
}

function drawPanel(p) {
    const canvas = document.createElement('canvas');
    const wrap = document.createElement('div');
    wrap.className = 'panel';
    wrap.style.left = (p.left - LEFT_GUTTER) + 'px';
    wrap.style.top = (p.top - TITLE_HEIGHT) + 'px';
    wrap.style.width = (p.width + LEFT_GUTTER + RIGHT_GUTTER) + 'px';
    wrap.style.height = (p.height + TITLE_HEIGHT + BOTTOM_GUTTER) + 'px';
    wrap.appendChild(canvas);
    document.body.appendChild(wrap);

    new Chart(canvas.getContext('2d'), {
        type: 'scatter',
        data: {
            datasets: [{
                data: p.xs.map((x, i) => ({ x: x, y: p.ys[i] })),
                backgroundColor: p.color,
                borderWidth: 0,
                pointStyle: p.marker,
                pointRadius: p.radius
            }]
        },
        options: {
            responsive: true,
            maintainAspectRatio: false,
            animation: false,
            layout: { autoPadding: false, padding: { right: RIGHT_GUTTER } },
            plugins: {
                legend: { display: false },
                tooltip: { enabled: false },
                title: {
                    display: true,
                    text: p.title,
                    fullSize: false,
                    color: '#000',
                    font: { family: 'DejaVu Sans', size: 12, weight: 'normal', lineHeight: 1.2 },
                    padding: { top: 0, bottom: 0.6 }
                }
            },
            scales: {
                x: axisOptions(p.xRange, p.xTicks, p.digits, s => { s.height = BOTTOM_GUTTER; }),
                y: axisOptions(p.yRange, p.yTicks, p.digits, s => { s.width = LEFT_GUTTER; })
            }
        },
        plugins: [framePlugin]
    });
}

panels.forEach(drawPanel);
</script>
</body>
</html>
